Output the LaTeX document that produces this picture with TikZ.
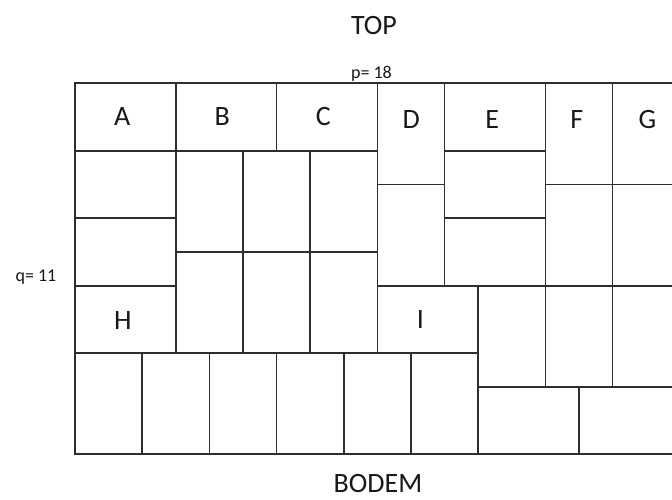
\documentclass[tikz,border=0pt]{standalone}
\usepackage{fontspec}
\setmainfont{Carlito}
\begin{document}
\begin{tikzpicture}[
  cell/.style={draw=black!82, line width=1.7pt, line join=miter},
  big/.style={font=\fontsize{28}{30}\selectfont, inner sep=0pt, anchor=base, text=black!90},
  small/.style={font=\fontsize{18}{20}\selectfont, inner sep=0pt, anchor=base, text=black!90}
]
\useasboundingbox[fill=white] (0pt,0pt) rectangle (672pt,-499pt);
\begin{scope}[shift={(75pt,-83.3pt)}, x=33.6pt, y=-33.73pt]
  % top row
  \draw[cell] (0,0) rectangle (3,2);
  \draw[cell] (3,0) rectangle (6,2);
  \draw[cell] (6,0) rectangle (9,2);
  \draw[cell] (9,0) rectangle (11,3);
  \draw[cell] (11,0) rectangle (14,2);
  \draw[cell] (14,0) rectangle (16,3);
  \draw[cell] (16,0) rectangle (18,3);
  % left column
  \draw[cell] (0,2) rectangle (3,4);
  \draw[cell] (0,4) rectangle (3,6);
  \draw[cell] (0,6) rectangle (3,8);
  % under B and C
  \draw[cell] (3,2) rectangle (5,5);
  \draw[cell] (5,2) rectangle (7,5);
  \draw[cell] (7,2) rectangle (9,5);
  \draw[cell] (3,5) rectangle (5,8);
  \draw[cell] (5,5) rectangle (7,8);
  \draw[cell] (7,5) rectangle (9,8);
  % under D, E, F, G
  \draw[cell] (9,3) rectangle (11,6);
  \draw[cell] (11,2) rectangle (14,4);
  \draw[cell] (11,4) rectangle (14,6);
  \draw[cell] (14,3) rectangle (16,6);
  \draw[cell] (16,3) rectangle (18,6);
  % I row
  \draw[cell] (9,6) rectangle (12,8);
  \draw[cell] (12,6) rectangle (14,9);
  \draw[cell] (14,6) rectangle (16,9);
  \draw[cell] (16,6) rectangle (18,9);
  % bottom row
  \draw[cell] (0,8) rectangle (2,11);
  \draw[cell] (2,8) rectangle (4,11);
  \draw[cell] (4,8) rectangle (6,11);
  \draw[cell] (6,8) rectangle (8,11);
  \draw[cell] (8,8) rectangle (10,11);
  \draw[cell] (10,8) rectangle (12,11);
  \draw[cell] (12,9) rectangle (15,11);
  \draw[cell] (15,9) rectangle (18,11);
\end{scope}
% labels
\node[big] (top) at (374pt,-34.3pt) {TOP};
\node[big] (bodem) at (378pt,-492pt) {BODEM};
\node[small] (p) at (371.5pt,-78.3pt) {p= 18};
\node[small, anchor=base east] (q) at (56.5pt,-281pt) {q= 11};
\node[big] (A) at (122.3pt,-125.7pt) {A};
\node[big] (B) at (222.2pt,-125.7pt) {B};
\node[big] (C) at (323.3pt,-125.7pt) {C};
\node[big] (D) at (411.3pt,-128pt) {D};
\node[big] (E) at (492.2pt,-128pt) {E};
\node[big] (F) at (576.7pt,-128pt) {F};
\node[big] (G) at (647.5pt,-128pt) {G};
\node[big] (H) at (122.8pt,-329pt) {H};
\node[big] (I) at (420.5pt,-328.5pt) {I};
\end{tikzpicture}
\end{document}
